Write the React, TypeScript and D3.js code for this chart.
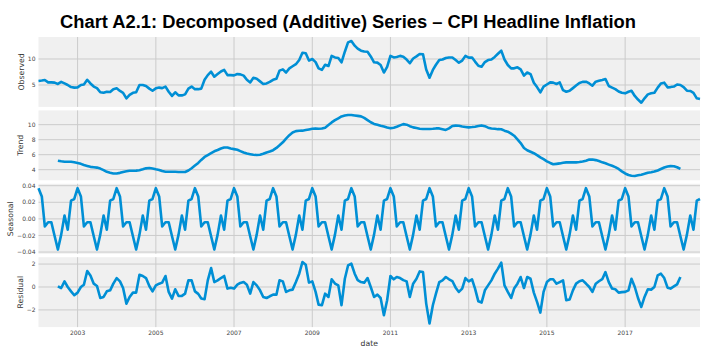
import React from 'react';
import * as d3 from 'd3';

// Monthly data, Jan 2002 .. Dec 2018
const observed = [
  5.77, 5.85, 5.96, 5.5, 5.5, 5.45, 5.2, 5.6, 5.3, 5.0, 4.6, 4.5,
  4.55, 5.0, 5.1, 6.0, 5.3, 4.7, 4.4, 3.6, 3.5, 3.7, 3.65, 4.2,
  4.36, 3.85, 3.5, 2.44, 3.1, 3.5, 3.6, 5.0, 5.0, 4.8, 4.3, 3.9,
  4.36, 4.5, 4.4, 4.7, 3.7, 2.9, 3.6, 3.0, 3.0, 3.2, 4.3, 4.7,
  4.2, 4.2, 4.3, 6.0, 6.9, 7.56, 6.6, 7.1, 7.6, 7.9, 6.9, 6.9,
  6.85, 7.1, 7.05, 6.8, 6.0, 5.5, 6.4, 6.2, 5.7, 5.2, 5.3, 5.6,
  6.0, 6.2, 7.76, 8.0, 7.4, 8.2, 8.6, 9.0, 9.8, 11.2, 11.1, 9.7,
  10.0, 9.4, 8.2, 7.9, 8.9, 8.65, 10.6, 10.3, 10.2, 9.36, 11.4, 13.2,
  13.46, 12.56, 12.0, 11.6, 11.45, 11.4, 10.5, 9.36, 9.3, 8.85, 7.4, 8.5,
  10.6, 10.3, 10.4, 10.6, 10.45, 9.9, 9.2, 10.1, 10.5, 10.96, 10.9, 8.0,
  6.4, 7.9, 8.9, 9.8, 9.9, 10.2, 10.3, 10.3, 9.8, 9.3, 9.7, 10.6,
  10.26, 10.3, 9.5, 8.7, 8.5, 9.4, 9.8, 9.9, 10.4, 11.0, 11.6, 9.9,
  8.85, 8.2, 8.2, 8.4, 8.0, 6.8, 7.4, 7.1, 5.45, 4.6, 3.6, 4.7,
  5.1, 5.5, 5.45, 5.2, 5.5, 4.0, 3.7, 3.9, 4.4, 4.9, 5.4, 5.6,
  5.64, 5.3, 4.87, 5.64, 5.8, 5.96, 6.15, 4.8, 4.5, 4.2, 3.75, 3.5,
  3.4, 3.7, 3.9, 2.9, 2.2, 1.6, 2.44, 3.2, 3.4, 3.5, 4.5, 5.3,
  5.45, 4.55, 4.6, 4.7, 5.1, 5.0, 4.6, 3.9, 3.85, 3.5, 2.44, 2.3,
];

// Trend and residual: Jul 2002 .. Jun 2018
const trend = [
  5.2, 5.12, 5.07, 5.07, 5.07, 5.0,
  4.9, 4.78, 4.62, 4.5, 4.38, 4.33, 4.28, 4.15, 3.95, 3.72, 3.6, 3.5,
  3.5, 3.58, 3.7, 3.8, 3.87, 3.87, 3.88, 3.93, 4.05, 4.18, 4.22, 4.15,
  4.05, 3.97, 3.82, 3.72, 3.72, 3.73, 3.72, 3.7, 3.7, 3.7, 3.9, 4.2,
  4.55, 4.9, 5.3, 5.7, 5.95, 6.2, 6.45, 6.62, 6.82, 6.95, 6.95, 6.82,
  6.74, 6.65, 6.48, 6.3, 6.15, 6.07, 6.0, 5.96, 6.0, 6.12, 6.3, 6.42,
  6.6, 6.9, 7.25, 7.65, 8.15, 8.6, 8.95, 9.14, 9.18, 9.2, 9.28, 9.36,
  9.45, 9.5, 9.45, 9.48, 9.6, 9.95, 10.3, 10.6, 10.85, 11.1, 11.22, 11.28,
  11.28, 11.22, 11.17, 11.1, 10.9, 10.6, 10.32, 10.1, 9.98, 9.85, 9.75, 9.62,
  9.52, 9.6, 9.72, 9.9, 10.07, 10.0, 9.8, 9.64, 9.55, 9.46, 9.42, 9.42,
  9.42, 9.45, 9.5, 9.5, 9.4, 9.3, 9.5, 9.82, 9.87, 9.85, 9.76, 9.7,
  9.64, 9.68, 9.73, 9.82, 9.9, 9.8, 9.6, 9.5, 9.45, 9.4, 9.38, 9.2,
  9.07, 8.8, 8.53, 8.05, 7.55, 6.9, 6.6, 6.4, 6.2, 5.95, 5.65, 5.4,
  5.12, 4.9, 4.72, 4.78, 4.84, 4.92, 4.98, 4.98, 4.98, 4.98, 5.02, 5.1,
  5.2, 5.35, 5.36, 5.28, 5.15, 4.98, 4.85, 4.68, 4.52, 4.35, 4.1, 3.78,
  3.5, 3.3, 3.2, 3.16, 3.25, 3.33, 3.45, 3.6, 3.67, 3.75, 3.9, 4.1,
  4.3, 4.42, 4.48, 4.47, 4.33, 4.1,
];

const residual = [
  0.06, -0.09, 0.49, 0.0, -0.38, -0.72,
  -0.49, 0.0, 0.2, 1.39, 1.01, 0.29, 0.09, -0.96, -0.87, -0.38, -0.29, 0.29,
  0.78, 0.49, -0.09, -1.45, -0.87, -0.49, -0.49, 1.07, 0.96, 0.78, 0.09, -0.38,
  0.14, 0.29, 0.38, 0.96, -0.43, -1.01, -0.2, -0.78, -0.78, -0.58, 0.58, 0.58,
  -0.38, -0.6, -1.01, -1.07, 0.58, 1.65, 0.43, 0.58, 0.78, 0.96, -0.14, -0.06,
  -0.14, 0.2, 0.35, 0.43, 0.2, -0.58, 0.43, 0.14, -0.29, -0.87, -0.96, -0.81,
  -0.67, -0.67, 0.58, 0.49, -0.43, -0.29, -0.23, 0.43, 1.16, 2.17, 1.94, 0.38,
  0.49, -0.43, -1.54, -1.59, -0.58, -0.87, 0.67, 0.3, 0.14, -1.59, 0.72, 1.88,
  2.03, 1.16, 0.6, 0.43, 0.38, 0.78, 0.0, -0.87, -0.67, -0.96, -2.46, -1.16,
  0.96, 0.67, 0.87, 0.78, 0.6, 0.49, -0.87, 0.29, 0.72, 1.36, 1.3, -1.45,
  -3.19, -1.59, -0.58, 0.43, 0.58, 0.87, 0.67, 0.52, -0.06, -0.43, -0.14, 0.78,
  0.49, 0.67, -0.14, -1.25, -1.36, -0.29, 0.14, 0.58, 1.16, 1.6, 2.12, 0.14,
  -0.43, -0.96, -0.14, 0.29, 0.87, -0.09, 0.87, 0.72, -0.49, -1.3, -2.23, -0.43,
  0.43, 0.67, 0.67, 0.29, 0.43, 0.58, -1.16, -1.1, -0.29, 0.29, 0.5, 0.58,
  0.3, 0.0, -0.43, 0.29, 0.5, 0.68, 1.3, 0.43, -0.14, -0.2, -0.49, -0.45,
  -0.43, -0.29, 0.72, 0.0, -0.96, -1.74, -0.87, -0.2, -0.23, 0.0, 1.01, 1.16,
  0.78, -0.06, -0.14, 0.05, 0.23, 0.87,
];

// Seasonal component: one 12-month cycle (Jan..Dec), repeated each year
const seasonalCycle = [0.037, 0.027, -0.009, -0.004, -0.004, -0.021, -0.037, -0.019, 0.004, -0.013, 0.022, 0.024];

const xTickYears = [2003, 2005, 2007, 2009, 2011, 2013, 2015, 2017];
const observedTicks = [5, 10];
const trendTicks = [4, 6, 8, 10];
const seasonalTicks = [-0.04, -0.02, 0, 0.02, 0.04];
const residualTicks = [-2, 0, 2];

const trendOffset = 6;
const dates = observed.map((_, i) => new Date(2002, i, 1));
const seasonal = dates.map((_, i) => seasonalCycle[i % 12]);

type Pt = { d: Date; v: number };
const obsPts: Pt[] = observed.map((v, i) => ({ d: dates[i], v }));
const trendPts: Pt[] = trend.map((v, i) => ({ d: dates[i + trendOffset], v }));
const seasPts: Pt[] = seasonal.map((v, i) => ({ d: dates[i], v }));
const residPts: Pt[] = residual.map((v, i) => ({ d: dates[i + trendOffset], v }));

const W = 711;
const H = 363;
const left = 38.5;
const right = 700;
const top = 37;
const panelH = 69.9;
const gap = 3.5;

const BLUE = '#008fd5';
const GRID = '#cbcbcb';
const BG = '#f0f0f0';
const FONT = "'DejaVu Sans', sans-serif";

const x = d3.scaleTime().domain([dates[0], dates[dates.length - 1]]).range([left, right]);

const panels = [
  { label: 'Observed', pts: obsPts, domain: [0.79, 14.23], ticks: observedTicks, fmt: d3.format('d'), labelX: 21.5 },
  { label: 'Trend', pts: trendPts, domain: [2.59, 11.9], ticks: trendTicks, fmt: d3.format('d'), labelX: 20.5 },
  { label: 'Seasonal', pts: seasPts, domain: [-0.042, 0.0423], ticks: seasonalTicks, fmt: d3.format('.2f'), labelX: 10 },
  { label: 'Residual', pts: residPts, domain: [-3.5, 2.6], ticks: residualTicks, fmt: d3.format('d'), labelX: 20.5 },
];

export default function App() {
  return (
    <svg width={W} height={H} style={{ position: 'absolute', left: 0, top: 0, background: '#fff' }}>
      <text x={60} y={28} textLength={576} lengthAdjust="spacingAndGlyphs" fontFamily="'Liberation Sans', Arial, sans-serif" fontWeight="bold" fontSize={18.3} fill="#000">
        Chart A2.1: Decomposed (Additive) Series – CPI Headline Inflation
      </text>
      {panels.map((p, pi) => {
        const y0 = top + pi * (panelH + gap);
        const y = d3.scaleLinear().domain(p.domain).range([y0 + panelH, y0]);
        const line = d3.line<Pt>().x((d) => x(d.d)).y((d) => y(d.v)).curve(d3.curveLinear);
        return (
          <g key={p.label}>
            <rect x={left} y={y0} width={right - left} height={panelH} fill={BG} />
            {xTickYears.map((yr) => {
              const xx = x(new Date(yr, 0, 1));
              return <line key={yr} x1={xx} x2={xx} y1={y0} y2={y0 + panelH} stroke={GRID} strokeWidth={1} />;
            })}
            {p.ticks.map((t) => (
              <g key={t}>
                <line x1={left} x2={right} y1={y(t)} y2={y(t)} stroke={GRID} strokeWidth={1} />
                <text x={35.5} y={y(t)} dy="0.35em" textAnchor="end" fontFamily={FONT} fontSize={6} fill="#444">
                  {p.fmt(t)}
                </text>
              </g>
            ))}
            <path d={line(p.pts) || ''} fill="none" stroke={BLUE} strokeWidth={2.6} strokeLinejoin="round" />
            <text
              transform={`translate(${p.labelX},${y0 + panelH / 2}) rotate(-90)`}
              textAnchor="middle"
              dy="0.35em"
              fontFamily={FONT}
              fontSize={7.7}
              fill="#333"
            >
              {p.label}
            </text>
          </g>
        );
      })}
      {xTickYears.map((yr) => (
        <text key={yr} x={x(new Date(yr, 0, 1))} y={335} textAnchor="middle" fontFamily={FONT} fontSize={6} fill="#444">
          {yr}
        </text>
      ))}
      <text x={(left + right) / 2} y={346} textAnchor="middle" fontFamily={FONT} fontSize={7.7} fill="#333">
        date
      </text>
    </svg>
  );
}
